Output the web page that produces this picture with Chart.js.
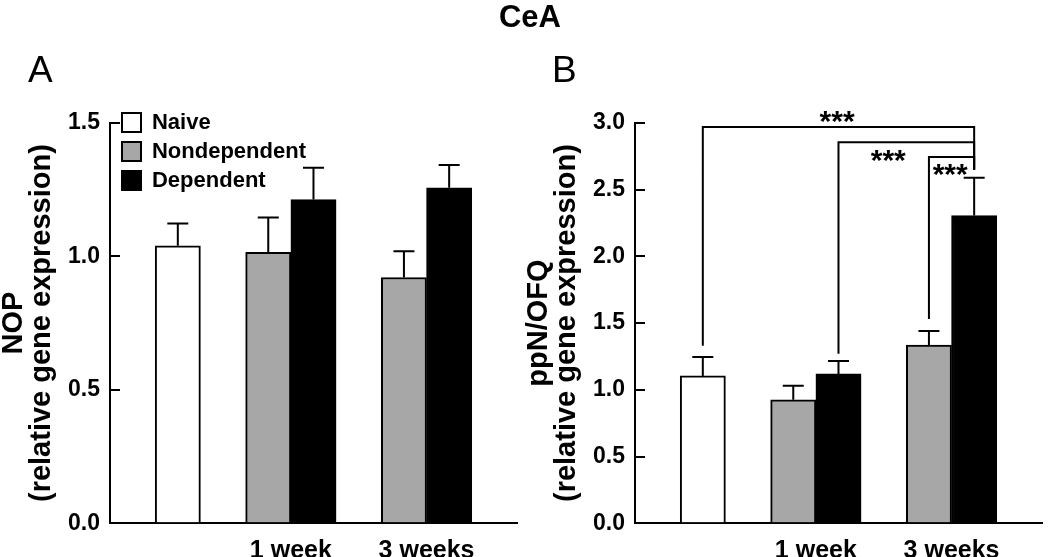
<!DOCTYPE html>
<html>
<head>
<meta charset="utf-8">
<script src="https://cdn.jsdelivr.net/npm/chart.js@4.4.1/dist/chart.umd.min.js"></script>
<style>
html,body{margin:0;padding:0;background:#fff;}
#wrap{position:relative;width:1050px;height:557px;overflow:hidden;background:#fff;}
canvas{position:absolute;top:0;}
#cA{left:0;}
#cB{left:525px;}
.lbl{position:absolute;color:#000;white-space:nowrap;z-index:2;font-family:"Liberation Sans",Arial,sans-serif;}
</style>
</head>
<body>
<div id="wrap">
<canvas id="cA" width="525" height="557"></canvas>
<canvas id="cB" width="525" height="557"></canvas>
<div class="lbl" style="left:430px;width:200px;text-align:center;top:1px;font-weight:bold;font-size:31px;line-height:31px;">CeA</div>
<div class="lbl" style="left:28px;top:51px;font-size:37px;line-height:37px;">A</div>
<div class="lbl" style="left:552px;top:51px;font-size:37px;line-height:37px;">B</div>
</div>
<script>
// ---------------- data ----------------
const seriesNames = ['Naive', 'Nondependent', 'Dependent'];
const groupLabels = ['1 week', '3 weeks'];

// Panel A: NOP (relative gene expression), mean and SEM
const nopNaive = [1.04];
const nopNaiveSem = [0.083];
const nopNondep = [1.015, 0.921];
const nopNondepSem = [0.131, 0.098];
const nopDep = [1.213, 1.257];
const nopDepSem = [0.119, 0.086];
const nopTicks = [0.0, 0.5, 1.0, 1.5];
const nopTitle = ['NOP', '(relative gene expression)'];

// Panel B: ppN/OFQ (relative gene expression), mean and SEM
const ppnNaive = [1.104];
const ppnNaiveSem = [0.142];
const ppnNondep = [0.925, 1.336];
const ppnNondepSem = [0.105, 0.104];
const ppnDep = [1.119, 2.306];
const ppnDepSem = [0.097, 0.284];
const ppnTicks = [0.0, 0.5, 1.0, 1.5, 2.0, 2.5, 3.0];
const ppnTitle = ['ppN/OFQ', '(relative gene expression)'];

// significance comparisons (panel B): [series, group] pairs, group -1 = naive
const sigComparisons = [
  [['Naive', -1], ['Dependent', 1]],
  [['Dependent', 0], ['Dependent', 1]],
  [['Nondependent', 1], ['Dependent', 1]]
];
const sigLabels = ['***', '***', '***'];

// ---------------- layout helpers ----------------
const SLOT_COUNT = 9;
const NAIVE_SLOT = 1;
const GROUP_SLOTS = [3, 6];     // nondependent at slot, dependent at slot+1
function slotOf(series, group) {
  if (series === 'Naive') return NAIVE_SLOT;
  return GROUP_SLOTS[group] + (series === 'Dependent' ? 1 : 0);
}
function emptySlots() { return new Array(SLOT_COUNT).fill(null); }
function naiveSlots(vals) { const a = emptySlots(); a[NAIVE_SLOT] = vals[0]; return a; }
function groupSlots(vals, series) {
  const a = emptySlots();
  vals.forEach((v, i) => { a[slotOf(series, i)] = v; });
  return a;
}
const groupTickPos = GROUP_SLOTS.map(s => s + 1);

const FONT = '"Liberation Sans", Arial, sans-serif';
Chart.defaults.font.family = FONT;
Chart.defaults.color = '#000';

const errorBars = {
  id: 'errorBars',
  afterDatasetsDraw(chart) {
    const ctx = chart.ctx, y = chart.scales.y;
    chart.data.datasets.forEach((ds, i) => {
      const meta = chart.getDatasetMeta(i);
      meta.data.forEach((bar, j) => {
        const v = ds.data[j], e = ds.sem[j];
        if (v == null || e == null) return;
        const yt = y.getPixelForValue(v + e);
        ctx.save();
        ctx.strokeStyle = '#000';
        ctx.lineWidth = 2;
        ctx.beginPath();
        ctx.moveTo(bar.x, bar.y);
        ctx.lineTo(bar.x, yt);
        ctx.moveTo(bar.x - 10.5, yt);
        ctx.lineTo(bar.x + 10.5, yt);
        ctx.stroke();
        ctx.restore();
      });
    });
  }
};

const legendShift = {
  id: 'legendShift',
  afterLayout(chart, args, opts) {
    const lg = chart.legend;
    if (!lg || !lg.options.display) return;
    const ca = chart.chartArea;
    const w = lg.width, h = lg.height;
    lg.left = ca.left + opts.dx;
    lg.top = ca.top + opts.dy;
    lg.right = lg.left + w;
    lg.bottom = lg.top + h;
  }
};

const brackets = {
  id: 'brackets',
  afterDatasetsDraw(chart, args, opts) {
    if (!opts.pairs) return;
    const ctx = chart.ctx, x = chart.scales.x, x2 = chart.scales.x2, y = chart.scales.y;
    ctx.save();
    ctx.strokeStyle = '#000';
    ctx.lineWidth = 2;
    opts.pairs.forEach((p, k) => {
      const xa = x.getPixelForValue(slotOf(p[0][0], p[0][1]));
      const xb = x.getPixelForValue(slotOf(p[1][0], p[1][1]));
      const yl = y.getPixelForValue(opts.levels[k]);
      ctx.beginPath();
      ctx.moveTo(xa, y.getPixelForValue(opts.leftEnds[k]));
      ctx.lineTo(xa, yl);
      ctx.lineTo(xb, yl);
      ctx.lineTo(xb, y.getPixelForValue(opts.rightEnd));
      ctx.stroke();
    });
    ctx.fillStyle = '#000';
    ctx.font = 'bold 30px ' + FONT;
    ctx.textAlign = 'center';
    ctx.textBaseline = 'alphabetic';
    opts.labels.forEach((t, k) => {
      const m = ctx.measureText(t);
      const yc = y.getPixelForValue(opts.labelPos[k][1]);
      const yb = yc + (m.actualBoundingBoxAscent - m.actualBoundingBoxDescent) / 2;
      ctx.fillText(t, x2.getPixelForValue(opts.labelPos[k][0]), yb);
    });
    ctx.restore();
  }
};

function makeChart(canvasId, naive, naiveSem, nondep, nondepSem, dep, depSem, ticks, yTitle, showLegend, bracketOpts) {
  const ymax = ticks[ticks.length - 1];
  return new Chart(document.getElementById(canvasId), {
    type: 'bar',
    data: {
      labels: new Array(SLOT_COUNT).fill('').map((_, i) => 'slot' + i),
      datasets: [
        { label: seriesNames[0], data: naiveSlots(naive), sem: naiveSlots(naiveSem),
          backgroundColor: '#ffffff', borderColor: '#000', borderWidth: 2 },
        { label: seriesNames[1], data: groupSlots(nondep, 'Nondependent'), sem: groupSlots(nondepSem, 'Nondependent'),
          backgroundColor: '#a7a7a7', borderColor: '#000', borderWidth: 2 },
        { label: seriesNames[2], data: groupSlots(dep, 'Dependent'), sem: groupSlots(depSem, 'Dependent'),
          backgroundColor: '#000000', borderColor: '#000', borderWidth: 2 }
      ]
    },
    options: {
      responsive: false,
      animation: false,
      devicePixelRatio: 1,
      grouped: false,
      categoryPercentage: 1.0,
      barPercentage: 1.0,
      layout: { padding: { left: 0, right: 8, top: 123, bottom: -24 } },
      plugins: {
        tooltip: { enabled: false },
        title: { display: false },
        legend: {
          display: showLegend,
          position: 'chartArea',
          align: 'start',
          labels: {
            boxWidth: 19, boxHeight: 19, padding: 7, color: '#000',
            font: { size: 22, weight: 'bold', family: FONT }
          }
        },
        legendShift: { dx: 5, dy: -18.5 },
        brackets: bracketOpts || {}
      },
      scales: {
        x: { type: 'category', display: false, offset: true },
        x2: {
          type: 'linear', position: 'bottom', min: 0, max: SLOT_COUNT,
          offset: false,
          grid: { display: false, drawTicks: false, offset: false },
          border: { display: true, color: '#000', width: 2 },
          afterBuildTicks: (s) => { s.ticks = groupTickPos.map(v => ({ value: v })); },
          ticks: {
            autoSkip: false, maxRotation: 0, padding: 22, color: '#000',
            font: { size: 25, weight: 'bold', family: FONT, lineHeight: '12px' },
            callback: (v, i) => groupLabels[i]
          }
        },
        y: {
          type: 'linear', min: 0, max: ymax,
          afterBuildTicks: (s) => { s.ticks = ticks.map(v => ({ value: v })); },
          grid: { drawOnChartArea: false, drawTicks: true, tickLength: -10, color: '#000', lineWidth: 2 },
          border: { display: true, color: '#000', width: 2 },
          ticks: {
            padding: 20, color: '#000',
            font: { size: 23, weight: 'bold', family: FONT },
            callback: (v) => Number(v).toFixed(1)
          },
          title: {
            display: true, text: yTitle, color: '#000',
            padding: { top: 0, bottom: -8 },
            font: { size: 29, weight: 'bold', family: FONT, lineHeight: '28px' }
          }
        }
      }
    },
    plugins: [errorBars, legendShift, brackets]
  });
}

makeChart('cA', nopNaive, nopNaiveSem, nopNondep, nopNondepSem, nopDep, nopDepSem, nopTicks, nopTitle, true, null);
makeChart('cB', ppnNaive, ppnNaiveSem, ppnNondep, ppnNondepSem, ppnDep, ppnDepSem, ppnTicks, ppnTitle, false, {
  pairs: sigComparisons,
  labels: sigLabels,
  levels: [2.97, 2.855, 2.745],
  leftEnds: [1.33, 1.27, 1.53],
  rightEnd: 2.65,
  labelPos: [[4.47, 3.045], [5.6, 2.75], [6.97, 2.65]]
});
</script>
</body>
</html>
